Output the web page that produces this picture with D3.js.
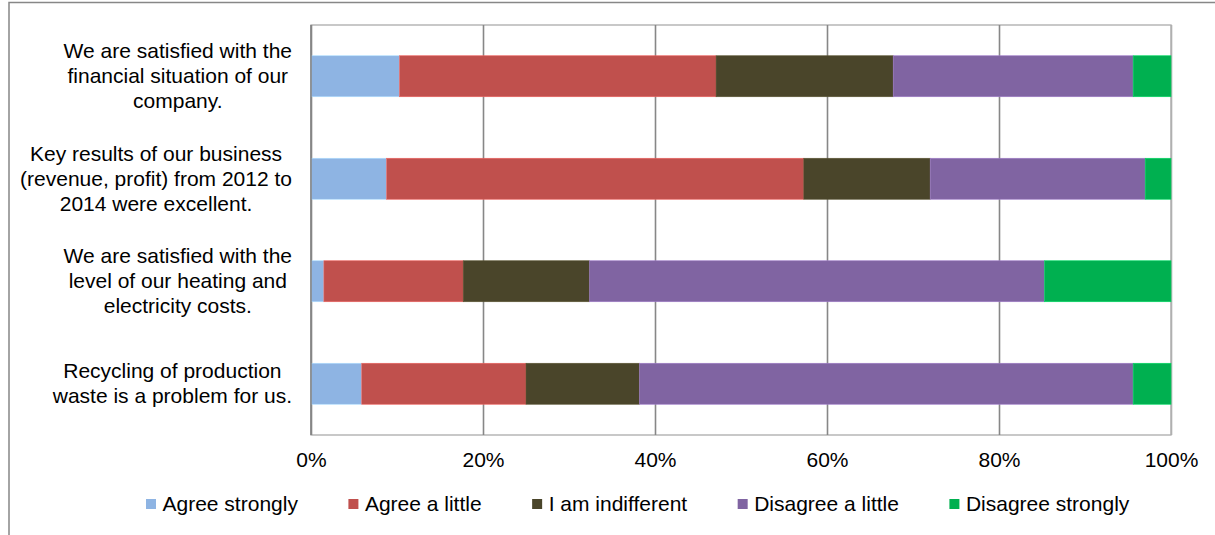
<!DOCTYPE html>
<html>
<head>
<meta charset="utf-8">
<script src="https://cdn.jsdelivr.net/npm/d3@7/dist/d3.min.js"></script>
<style>
  html, body { margin: 0; padding: 0; background: #fff; }
  svg { display: block; font-family: "Liberation Sans", Arial, Helvetica, sans-serif; }
</style>
</head>
<body>
<svg id="chart" width="1215" height="535"></svg>
<script>
// Survey statements (line breaks as displayed on the axis)
const categories = [
  "We are satisfied with the\nfinancial situation of our\ncompany.",
  "Key results of our business\n(revenue, profit) from 2012 to\n2014 were excellent.",
  "We are satisfied with the\nlevel of our heating and\nelectricity costs.",
  "Recycling of production\nwaste is a problem for us."
];

// Answer categories, in stacking order
const seriesNames = ["Agree strongly", "Agree a little", "I am indifferent", "Disagree a little", "Disagree strongly"];
const seriesColors = ["#8EB4E3", "#C0504D", "#4A452A", "#8064A2", "#00B050"];

// Share of respondents (%) per statement
const agreeStrongly    = [10.3,  8.8,  1.5,  5.9];
const agreeLittle      = [36.8, 48.5, 16.2, 19.1];
const indifferent      = [20.6, 14.7, 14.7, 13.2];
const disagreeLittle   = [27.9, 25.0, 52.9, 57.4];
const disagreeStrongly = [ 4.4,  3.0, 14.7,  4.4];

const xTicks = [0, 20, 40, 60, 80, 100];

const seriesValues = [agreeStrongly, agreeLittle, indifferent, disagreeLittle, disagreeStrongly];
const rows = categories.map((c, i) => {
  const r = { category: c };
  seriesNames.forEach((s, k) => { r[s] = seriesValues[k][i]; });
  return r;
});

const svg = d3.select("#chart");
const plot = { left: 311, right: 1171, top: 25, bottom: 435 };
const fontSize = 21;

// Outer chart frame (left and top edges visible)
svg.append("rect")
  .attr("x", 9).attr("y", 2.5).attr("width", 1300).attr("height", 600)
  .attr("fill", "none").attr("stroke", "#878787").attr("stroke-width", 1.5);

const x = d3.scaleLinear().domain([0, 100]).range([plot.left, plot.right]);
const y = d3.scaleBand().domain(categories).range([plot.top, plot.bottom])
  .paddingInner(0.6).paddingOuter(0.3);

// Plot area border
svg.append("rect")
  .attr("x", plot.left).attr("y", plot.top)
  .attr("width", plot.right - plot.left).attr("height", plot.bottom - plot.top)
  .attr("fill", "none").attr("stroke", "#ababab").attr("stroke-width", 1.3);

// Vertical gridlines
const grid = svg.append("g")
  .attr("transform", `translate(0,${plot.bottom})`)
  .call(d3.axisBottom(x).tickValues(xTicks).tickSize(-(plot.bottom - plot.top)).tickFormat(""));
grid.select(".domain").remove();
grid.selectAll(".tick line").attr("stroke", "#878787").attr("stroke-width", 1.6);
grid.selectAll(".tick").filter(d => d === 100).select("line").attr("stroke", "#b0b0b0");

// Stacked bars
const stack = d3.stack().keys(seriesNames);
const layers = stack(rows);
svg.append("g").selectAll("g")
  .data(layers)
  .join("g")
  .attr("fill", (d, i) => seriesColors[i])
  .attr("stroke", (d, i) => d3.color(seriesColors[i]).brighter(0.6))
  .attr("stroke-width", 0.6)
  .selectAll("rect")
  .data(d => d)
  .join("rect")
  .attr("x", d => x(d[0]))
  .attr("width", d => x(d[1]) - x(d[0]))
  .attr("y", d => y(d.data.category))
  .attr("height", y.bandwidth());

// Category axis line
svg.append("line")
  .attr("x1", plot.left).attr("x2", plot.left)
  .attr("y1", plot.top).attr("y2", plot.bottom)
  .attr("stroke", "#878787").attr("stroke-width", 1.6);

// Percentage axis labels
const xAxis = svg.append("g")
  .attr("transform", `translate(0,${plot.bottom})`)
  .call(d3.axisBottom(x).tickValues(xTicks).tickSize(0).tickPadding(16.6).tickFormat(d => d + "%"));
xAxis.select(".domain").remove();
xAxis.selectAll("text")
  .attr("fill", "#000")
  .style("font-size", fontSize + "px")
  .style("font-family", "\"Liberation Sans\", Arial, sans-serif");

// Category labels: block right-aligned to the axis, lines centred within the block
const labelRight = 292;
const lineHeight = 25;
const labelG = svg.append("g");
categories.forEach(cat => {
  const lines = cat.split("\n");
  const t = labelG.append("text")
    .attr("text-anchor", "middle")
    .attr("fill", "#000")
    .style("font-size", fontSize + "px");
  const cy = y(cat) + y.bandwidth() / 2;
  const firstBase = cy - (lines.length - 1) * lineHeight / 2 + fontSize * 0.33;
  const spans = lines.map((ln, i) =>
    t.append("tspan").attr("y", firstBase + i * lineHeight).text(ln));
  const maxW = d3.max(spans, s => s.node().getComputedTextLength());
  spans.forEach(s => s.attr("x", labelRight - maxW / 2));
});

// Legend
const legend = svg.append("g");
let lx = 146;
seriesNames.forEach((name, i) => {
  legend.append("rect")
    .attr("x", lx).attr("y", 499).attr("width", 10).attr("height", 10)
    .attr("fill", seriesColors[i]);
  const t = legend.append("text")
    .attr("x", lx + 16.5).attr("y", 511)
    .attr("fill", "#000")
    .style("font-size", fontSize + "px")
    .text(name);
  lx += 16.5 + t.node().getComputedTextLength() + 50.5;
});
</script>
</body>
</html>
